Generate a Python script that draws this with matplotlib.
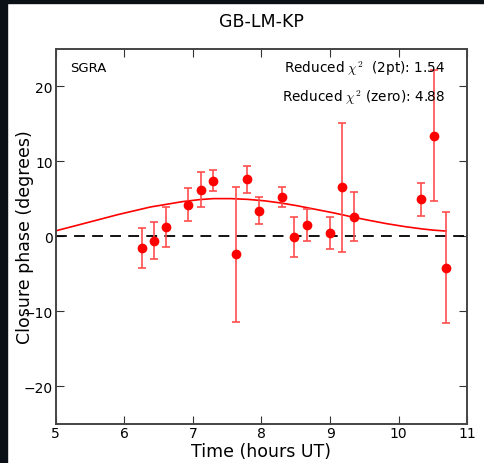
import numpy as np
import matplotlib
matplotlib.use("Agg")
import matplotlib.pyplot as plt
from matplotlib.patches import Rectangle

plt.rcParams['mathtext.fontset'] = 'cm'

# closure phase measurements
t_obs = [6.26, 6.44, 6.61, 6.93, 7.12, 7.29, 7.63, 7.79, 7.97, 8.30, 8.48, 8.66,
         9.00, 9.17, 9.35, 10.33, 10.51, 10.69]
cp_obs = [-1.6, -0.6, 1.2, 4.2, 6.2, 7.4, -2.4, 7.6, 3.4, 5.2, -0.1, 1.5,
          0.4, 6.5, 2.6, 4.9, 13.4, -4.2]
cp_err = [2.7, 2.45, 2.7, 2.2, 2.35, 1.45, 9.0, 1.8, 1.8, 1.3, 2.7, 2.1,
          2.1, 8.6, 3.25, 2.2, 8.7, 7.35]

# model curve
t_mod = [5.0, 5.4, 5.9, 6.38, 6.85, 7.1, 7.3, 7.55, 7.8, 8.05, 8.28, 8.52, 8.77,
         9.05, 9.3, 9.57, 9.83, 10.08, 10.32, 10.5, 10.69]
cp_mod = [0.7, 1.65, 2.85, 3.88, 4.6, 4.87, 5.0, 5.0, 4.9, 4.7, 4.42, 4.05, 3.6,
          3.1, 2.6, 2.1, 1.65, 1.28, 0.98, 0.8, 0.67]

title = 'GB-LM-KP'
source = 'SGRA'
chi2_2pt = 1.54
chi2_zero = 4.88

fig = plt.figure(figsize=(4.84, 4.64), dpi=100)
ax = fig.add_axes([0.115, 0.085, 0.8505, 0.808])

ax.axhline(0, color='black', ls='--', lw=1.3, dashes=(6, 4))
ax.plot(t_mod, cp_mod, color='red', lw=1.2)
ax.errorbar(t_obs, cp_obs, yerr=cp_err, fmt='o', color='red', ms=6,
            ecolor=(1, 0.3, 0.3), elinewidth=1.2, capsize=3, capthick=1.2)

ax.set_xlim(5, 11)
ax.set_ylim(-25, 25)
ax.set_yticks([-20, -10, 0, 10, 20])
ax.tick_params(direction='in', length=6, width=0.8, top=True, right=True,
               labelsize=10, pad=2, color='#333333')
for s in ax.spines.values():
    s.set_linewidth(1.4)
    s.set_color('#444444')

ax.set_xlabel('Time (hours UT)', fontsize=12.5, labelpad=1)
ax.set_ylabel('Closure phase (degrees)', fontsize=12.5)
ax.yaxis.set_label_coords(-0.053, 0.5)
ax.set_title(title, fontsize=12.5, pad=16)

ax.text(0.036, 0.95, source, transform=ax.transAxes, fontsize=9.5, va='center')
ax.text(0.946, 0.948, r'Reduced $\chi^2$  (2pt): %.2f' % chi2_2pt,
        transform=ax.transAxes, fontsize=9.8, ha='right', va='center')
ax.text(0.946, 0.873, r'Reduced $\chi^2$ (zero): %.2f' % chi2_zero,
        transform=ax.transAxes, fontsize=9.8, ha='right', va='center')

# dark screen border of the screenshot
fig.patches.append(Rectangle((0, 0), 7 / 484, 1, transform=fig.transFigure,
                             color='#0b1016', zorder=10))
fig.patches.append(Rectangle((0, 1 - 4 / 464), 1, 4 / 464, transform=fig.transFigure,
                             color='#0b1016', zorder=10))

fig.savefig('out.png', dpi=100)
